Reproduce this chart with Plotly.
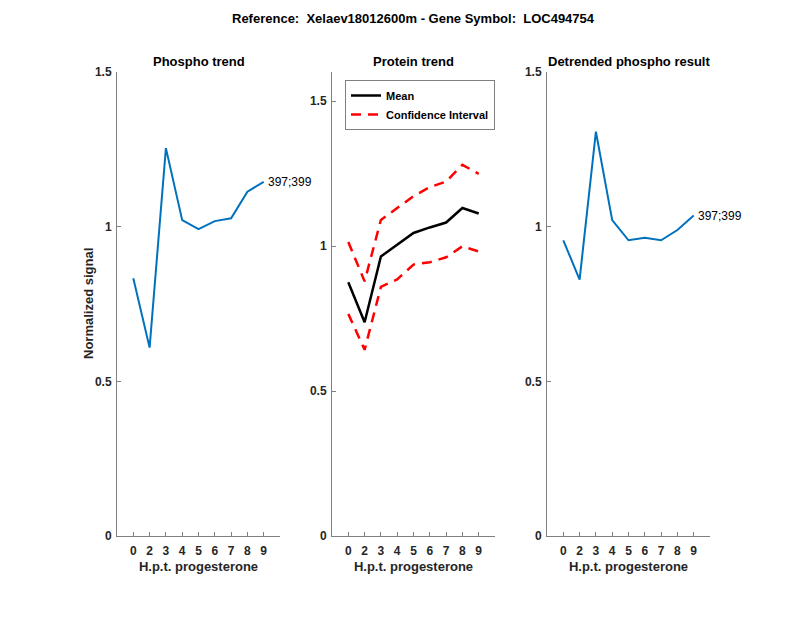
import plotly.graph_objects as go

# ---- data ----
positions = [1, 2, 3, 4, 5, 6, 7, 8, 9]
tick_labels = ["0", "2", "3", "4", "5", "6", "7", "8", "9"]

phospho = [0.833, 0.609, 1.254, 1.021, 0.992, 1.018, 1.027, 1.113, 1.145]
protein_mean = [0.875, 0.737, 0.964, 1.004, 1.045, 1.064, 1.081, 1.131, 1.112]
protein_upper = [1.014, 0.878, 1.090, 1.130, 1.172, 1.203, 1.222, 1.280, 1.249]
protein_lower = [0.766, 0.642, 0.859, 0.885, 0.936, 0.944, 0.961, 0.999, 0.981]
detrended = [0.956, 0.829, 1.307, 1.021, 0.956, 0.964, 0.956, 0.989, 1.036]

site_label = "397;399"
main_title = "Reference:  Xelaev18012600m - Gene Symbol:  LOC494754"
sub_titles = ["Phospho trend", "Protein trend", "Detrended phospho result"]
x_title = "H.p.t. progesterone"
y_title = "Normalized signal"

BLUE = "#0072BD"
FONT = "Liberation Sans"
AX_COL = "#808080"
TXT = "#262626"

W, H = 800, 618
OFF = 8  # page body margin
def px(x):
    return (x - OFF) / W
def py(y):
    return 1 - (y - OFF) / H

fig = go.Figure()

xdoms = [(117, 280), (332, 495), (547, 710)]
ytop, ybot = 72, 536
ydom = [py(ybot), py(ytop)]

fig.add_trace(go.Scatter(x=positions, y=phospho, mode="lines",
                         line=dict(color=BLUE, width=2), showlegend=False,
                         xaxis="x", yaxis="y", hoverinfo="skip"))
fig.add_trace(go.Scatter(x=positions, y=protein_mean, mode="lines", name="<b>Mean</b>",
                         line=dict(color="black", width=2.5),
                         xaxis="x2", yaxis="y2"))
fig.add_trace(go.Scatter(x=positions, y=protein_upper, mode="lines",
                         name="<b>Confidence Interval</b>",
                         line=dict(color="#FF0000", width=2.5, dash="10px,7px"),
                         xaxis="x2", yaxis="y2"))
fig.add_trace(go.Scatter(x=positions, y=protein_lower, mode="lines",
                         name="Confidence Interval", showlegend=False,
                         line=dict(color="#FF0000", width=2.5, dash="10px,7px"),
                         xaxis="x2", yaxis="y2"))
fig.add_trace(go.Scatter(x=positions, y=detrended, mode="lines",
                         line=dict(color=BLUE, width=2), showlegend=False,
                         xaxis="x3", yaxis="y3", hoverinfo="skip"))

tickfont = dict(family=FONT, size=12, color=TXT)
ranges_y = [[0, 1.5], [0, 1.6], [0, 1.5]]
layout = {}
for i in range(3):
    sx = "" if i == 0 else str(i + 1)
    layout["xaxis" + sx] = dict(
        domain=[px(xdoms[i][0]), px(xdoms[i][1])], range=[0, 10],
        tickmode="array", tickvals=positions,
        ticktext=["<b>%s</b>" % t for t in tick_labels],
        ticks="inside", ticklen=4, tickcolor=AX_COL, showline=True,
        linecolor=AX_COL, linewidth=1, showgrid=False, zeroline=False,
        anchor="y" + sx, tickfont=tickfont, automargin=False,
        ticklabelstandoff=4,
        title=dict(text="<b>%s</b>" % x_title, font=dict(family=FONT, size=13, color=TXT),
                   standoff=4),
    )
    layout["yaxis" + sx] = dict(
        domain=ydom, range=ranges_y[i], tickmode="array",
        tickvals=[0, 0.5, 1, 1.5],
        ticktext=["<b>0</b>", "<b>0.5</b>", "<b>1</b>", "<b>1.5</b>"],
        ticks="inside", ticklen=4, tickcolor=AX_COL, showline=True,
        linecolor=AX_COL, linewidth=1, showgrid=False, zeroline=False,
        anchor="x" + sx, tickfont=tickfont, automargin=False,
        ticklabelstandoff=2,
    )

annotations = []
annotations.append(dict(text="<b>%s</b>" % main_title, x=px(413), y=py(19),
                        xref="paper", yref="paper", showarrow=False,
                        font=dict(family=FONT, size=13, color="black"),
                        xanchor="center", yanchor="middle"))
for i in range(3):
    cx = px((xdoms[i][0] + xdoms[i][1]) / 2)
    annotations.append(dict(text="<b>%s</b>" % sub_titles[i], x=cx, y=py(61),
                            xref="paper", yref="paper", showarrow=False,
                            font=dict(family=FONT, size=13, color="black"),
                            xanchor="center", yanchor="middle"))
annotations.append(dict(text="<b>%s</b>" % y_title, x=px(88), y=py((ytop + ybot) / 2),
                        xref="paper", yref="paper", showarrow=False, textangle=-90,
                        font=dict(family=FONT, size=13, color=TXT),
                        xanchor="center", yanchor="middle"))
annotations.append(dict(text=site_label, x=positions[-1], y=phospho[-1], xref="x", yref="y",
                        showarrow=False, xanchor="left", xshift=2,
                        font=dict(family=FONT, size=12, color="black")))
annotations.append(dict(text=site_label, x=positions[-1], y=detrended[-1], xref="x3", yref="y3",
                        showarrow=False, xanchor="left", xshift=2,
                        font=dict(family=FONT, size=12, color="black")))

fig.update_layout(
    width=W, height=H, margin=dict(l=0, r=0, t=0, b=0),
    paper_bgcolor="white", plot_bgcolor="white",
    annotations=annotations,
    legend=dict(x=px(345), y=py(80), xanchor="left", yanchor="top",
                bordercolor=AX_COL, borderwidth=1, bgcolor="white",
                font=dict(family=FONT, size=11, color="black"),
                tracegroupgap=0, itemwidth=30),
    **layout,
)

fig.write_html("out.html")
